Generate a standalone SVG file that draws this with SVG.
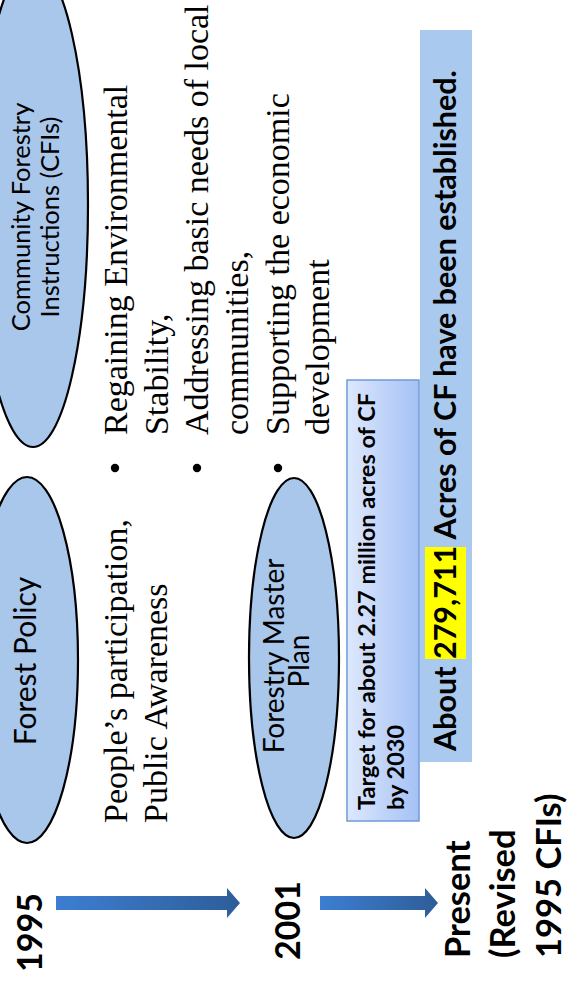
<svg xmlns="http://www.w3.org/2000/svg" width="570" height="986" viewBox="0 0 570 986">
<style>
.ell{fill:#A9C6EB;stroke:#000;stroke-width:2.2}
.cal{font-family:Lato,'Liberation Sans',sans-serif;fill:#000}
.b{font-weight:bold}
.ser{font-family:'Liberation Serif','Times New Roman',serif;font-size:34px;fill:#000}
.mid{text-anchor:middle}
.dot{fill:#000}
</style>
<defs>
<linearGradient id="arrG" x1="0" y1="0" x2="1" y2="0">
<stop offset="0" stop-color="#3D7ED2"/><stop offset="1" stop-color="#2E5D98"/>
</linearGradient>
<linearGradient id="boxG" x1="0" y1="0" x2="1" y2="0">
<stop offset="0" stop-color="#DDE8FC"/><stop offset="1" stop-color="#A5C1F5"/>
</linearGradient>
</defs>
<rect width="570" height="986" fill="#fff"/>
<g id="connectors">
<path d="M56,896 H227 V888 L240,903 L227,918 V910 H56 Z" fill="url(#arrG)"/>
<path d="M320,896 H425 V888 L438,903 L425,918 V910 H320 Z" fill="url(#arrG)"/>
</g>
<g id="year-1995"><text class="cal b" font-size="34" transform="rotate(-90)" x="-972" y="42">1995</text></g>
<g id="year-2001"><text class="cal b" font-size="34" transform="rotate(-90)" x="-960" y="300">2001</text></g>
<g id="year-present"><text class="cal b" font-size="34.5" transform="rotate(-90)"><tspan x="-958" y="470">Present</tspan><tspan x="-958" y="515">(Revised</tspan><tspan x="-958" y="561">1995 CFIs)</tspan></text></g>
<g id="node-cfi">
<ellipse class="ell" cx="33" cy="205" rx="55" ry="242"/>
<text class="cal mid" font-size="25.5" transform="rotate(-90)"><tspan x="-217" y="30">Community Forestry</tspan><tspan x="-217" y="59">Instructions (CFIs)</tspan></text>
</g>
<g id="node-forest-policy">
<ellipse class="ell" cx="27" cy="660" rx="51" ry="183"/>
<text class="cal mid" font-size="30" transform="rotate(-90)" x="-661" y="36">Forest Policy</text>
</g>
<g id="node-master-plan">
<ellipse class="ell" cx="294" cy="658" rx="45" ry="180"/>
<text class="cal mid" font-size="28" transform="rotate(-90)"><tspan x="-656" y="284">Forestry Master</tspan><tspan x="-661" y="309">Plan</tspan></text>
</g>
<g id="text-people">
<text class="ser" transform="rotate(-90)"><tspan x="-823" y="127">People’s participation,</tspan><tspan x="-823" y="167">Public Awareness</tspan></text>
</g>
<g id="text-goals">
<circle class="dot" cx="115" cy="468" r="4.2"/>
<circle class="dot" cx="197" cy="468" r="4.2"/>
<circle class="dot" cx="278" cy="468" r="4.2"/>
<text class="ser" transform="rotate(-90)"><tspan x="-435" y="127">Regaining Environmental</tspan><tspan x="-435" y="168">Stability,</tspan><tspan x="-435" y="208">Addressing basic needs of local</tspan><tspan x="-435" y="248">communities,</tspan><tspan x="-435" y="289">Supporting the economic</tspan><tspan x="-435" y="329">development</tspan></text>
</g>
<g id="node-target">
<rect x="347" y="380" width="72" height="441" fill="url(#boxG)" stroke="#6F9BD8" stroke-width="1.5"/>
<text class="cal b" font-size="23.5" transform="rotate(-90)"><tspan x="-810" y="375">Target for about 2.27 million acres of CF</tspan><tspan x="-810" y="404">by 2030</tspan></text>
</g>
<g id="node-established">
<rect x="420" y="30" width="52" height="732" fill="#A9CAEE"/>
<rect x="425" y="547" width="41" height="112" fill="#FFFF00"/>
<text class="cal b" font-size="30.5" transform="rotate(-90)" x="-751" y="456">About 279,711 Acres of CF have been established.</text>
</g>
</svg>
